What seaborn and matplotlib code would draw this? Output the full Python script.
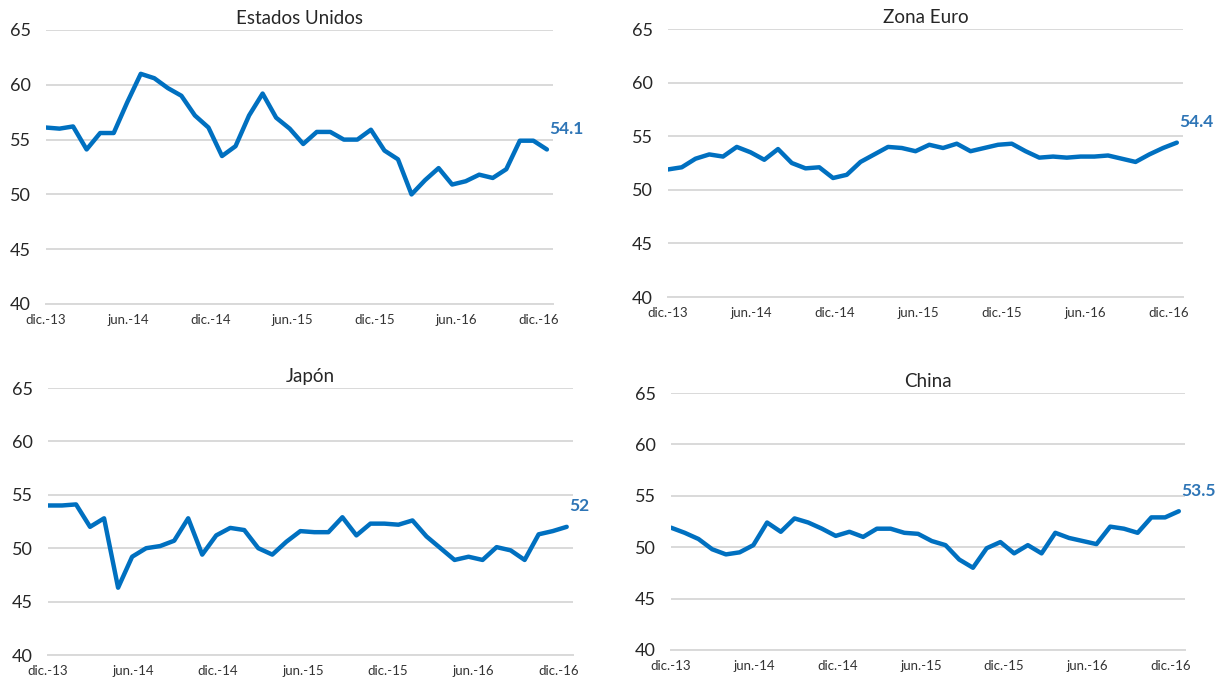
import numpy as np
import pandas as pd
import matplotlib
matplotlib.use("Agg")
import matplotlib.pyplot as plt
import matplotlib.transforms as mtransforms
import seaborn as sns

# Composite PMI, monthly, Nov 2013 - Dec 2016
usa = [56.1, 56.0, 56.2, 54.1, 55.6, 55.6, 58.4, 61.0, 60.6, 59.7, 59.0, 57.2, 56.1,
       53.5, 54.4, 57.2, 59.2, 57.0, 56.0, 54.6, 55.7, 55.7, 55.0, 55.0, 55.9, 54.0,
       53.2, 50.0, 51.3, 52.4, 50.9, 51.2, 51.8, 51.5, 52.3, 54.9, 54.9, 54.1]
eurozone = [51.9, 52.1, 52.9, 53.3, 53.1, 54.0, 53.5, 52.8, 53.8, 52.5, 52.0, 52.1, 51.1,
            51.4, 52.6, 53.3, 54.0, 53.9, 53.6, 54.2, 53.9, 54.3, 53.6, 53.9, 54.2, 54.3,
            53.6, 53.0, 53.1, 53.0, 53.1, 53.1, 53.2, 52.9, 52.6, 53.3, 53.9, 54.4]
japan = [54.0, 54.0, 54.1, 52.0, 52.8, 46.3, 49.2, 50.0, 50.2, 50.7, 52.8, 49.4, 51.2,
         51.9, 51.7, 50.0, 49.4, 50.6, 51.6, 51.5, 51.5, 52.9, 51.2, 52.3, 52.3, 52.2,
         52.6, 51.1, 50.0, 48.9, 49.2, 48.9, 50.1, 49.8, 48.9, 51.3, 51.6, 52.0]
china = [51.9, 51.4, 50.8, 49.8, 49.3, 49.5, 50.2, 52.4, 51.5, 52.8, 52.4, 51.8, 51.1,
         51.5, 51.0, 51.8, 51.8, 51.4, 51.3, 50.6, 50.2, 48.8, 48.0, 49.9, 50.5, 49.4,
         50.2, 49.4, 51.4, 50.9, 50.6, 50.3, 52.0, 51.8, 51.4, 52.9, 52.9, 53.5]

titles = ["Estados Unidos", "Zona Euro", "Japón", "China"]
series = [usa, eurozone, japan, china]
tick_labels = ["dic.-13", "jun.-14", "dic.-14", "jun.-15", "dic.-15", "jun.-16", "dic.-16"]
y_ticks = [40, 45, 50, 55, 60, 65]

LINE = "#0070C0"
LABEL = "#2E75B6"
GRID = "#D9D9D9"
TEXT = "#262626"

sns.set_theme(style="white")
plt.rcParams["font.family"] = ["Lato", "DejaVu Sans"]

W, H = 1215, 684
fig = plt.figure(figsize=(W / 100, H / 100), dpi=100)

# panel boxes in pixels: left, right, top, bottom
boxes = [(46, 553, 30, 304), (668, 1183, 29, 297),
         (48, 573, 388, 655), (671, 1185, 393, 650)]

months = np.arange(len(usa))
tick_pos = np.linspace(0, 36.4, len(tick_labels))

for title, vals, (l, r, t, b) in zip(titles, series, boxes):
    ax = fig.add_axes([l / W, 1 - b / H, (r - l) / W, (b - t) / H])
    df = pd.DataFrame({"mes": months, "pmi": vals})
    sns.lineplot(data=df, x="mes", y="pmi", ax=ax, color=LINE, linewidth=3.2,
                 solid_capstyle="round", solid_joinstyle="round")
    ax.set_xlim(0, 37.45)
    ax.set_ylim(40, 65)
    ax.set_yticks(y_ticks)
    ax.set_yticklabels([str(v) for v in y_ticks], fontsize=13, color=TEXT)
    ax.set_xticks(tick_pos)
    ax.set_xticklabels(tick_labels, fontsize=9.5, color="#333333")
    off = mtransforms.ScaledTranslation(6 / 100, 0, fig.dpi_scale_trans)
    for lab in ax.get_xticklabels():
        lab.set_transform(lab.get_transform() + off)
    ax.set_xlabel("")
    ax.set_ylabel("")
    ax.grid(axis="y", color=GRID, linewidth=1.4)
    ax.grid(axis="x", visible=False)
    ax.set_axisbelow(True)
    for side in ("left", "right", "top"):
        ax.spines[side].set_visible(False)
    ax.spines["bottom"].set_color(GRID)
    ax.spines["bottom"].set_linewidth(1.4)
    ax.tick_params(axis="x", direction="out", length=4, width=1.2, color="#BFBFBF", pad=3)
    ax.tick_params(axis="y", length=0, pad=11)
    ax.set_title(title, fontsize=13.5, color=TEXT, pad=4)
    last = vals[-1]
    ax.annotate(f"{last:g}", xy=(months[-1], last), xytext=(2, 9),
                textcoords="offset points", fontsize=12.5, fontweight="bold",
                color=LABEL, ha="left", va="bottom")

fig.savefig("out.png", dpi=100)
